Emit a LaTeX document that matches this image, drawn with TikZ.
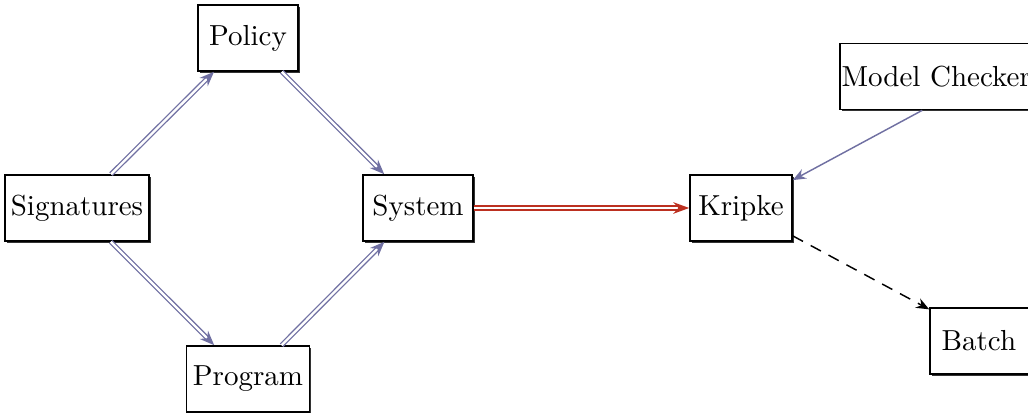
\documentclass[tikz,border=0pt]{standalone}
\usetikzlibrary{arrows.meta,shadows}
\definecolor{slate}{RGB}{112,112,162}
\definecolor{brick}{RGB}{188,48,32}
\begin{document}
\begin{tikzpicture}[x=0.345pt,y=-0.345pt,
  box/.style={draw=black,line width=0.55pt,fill=white,minimum height=22.8pt,inner sep=2pt,
    drop shadow={shadow xshift=0.6pt,shadow yshift=-0.6pt,opacity=1,fill=black!80}},
  dbl/.style={draw=slate,line width=0.45pt,double=white,double distance=0.8pt,
    -{Stealth[length=5pt,width=4pt]}},
  dblred/.style={draw=brick,line width=0.5pt,double=white,double distance=0.8pt,
    -{Stealth[length=5.5pt,width=4pt]}},
  single/.style={draw=slate,line width=0.5pt,-{Stealth[length=4.5pt,width=3.6pt]}},
  dashline/.style={draw=black,line width=0.5pt,dash pattern=on 4pt off 3pt,-{Stealth[length=4.5pt,width=3.6pt]}}
]
\useasboundingbox (0,0) rectangle (1028,413);
\node[box,minimum width=48pt] (sig) at (77,208) {Signatures};
\node[box,minimum width=34.5pt] (pol) at (248,38) {Policy};
\node[box,minimum width=38pt] (sys) at (418,208) {System};
\node[box,minimum width=42.4pt] (prog) at (248,379) {Program};
\node[box,minimum width=35.2pt] (kr) at (741,208) {Kripke};
\node[box,text width=99pt,align=left,inner xsep=0.6pt] (mc) at (985,76.5) {Model Checker};
\node[box,text width=32pt,align=left,inner xsep=4pt] (bat) at (988,341) {Batch};
\draw[dbl] (sig) -- (pol);
\draw[dbl] (pol) -- (sys);
\draw[dbl] (sig) -- (prog);
\draw[dbl] (prog) -- (sys);
\draw[dblred] (sys) -- (kr);
\draw[single] (mc) -- (kr);
\draw[dashline] (kr) -- (bat);
\end{tikzpicture}
\end{document}
